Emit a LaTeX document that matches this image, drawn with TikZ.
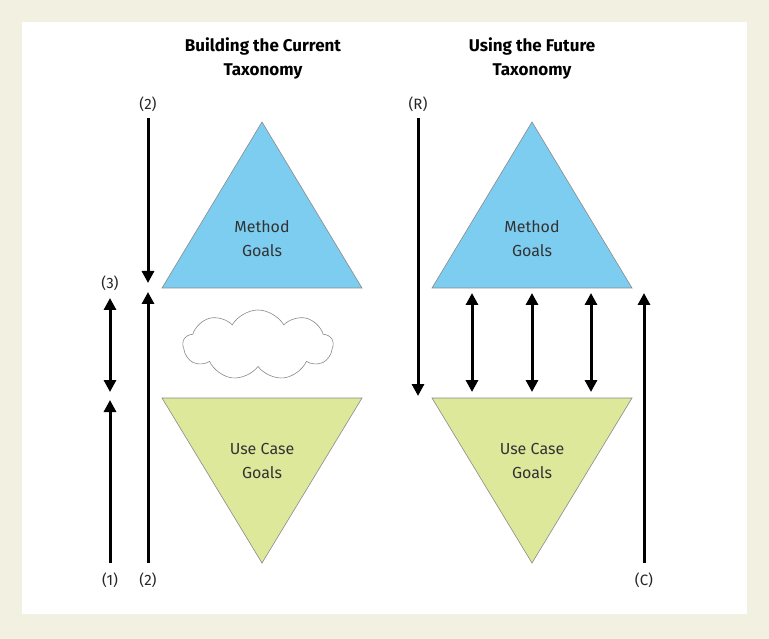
\documentclass[tikz,border=0pt]{standalone}
\usepackage{fontspec}
\setmainfont{Fira Sans}
\usetikzlibrary{arrows.meta,shapes.symbols}
\definecolor{bg}{HTML}{F1F0E1}
\definecolor{tblue}{HTML}{7DCDF0}
\definecolor{tgreen}{HTML}{DDE89B}
\definecolor{edge}{HTML}{8A8A8A}
\begin{document}
\begin{tikzpicture}[x=1pt,y=-1pt,
  arr/.style={line width=3pt,-{Triangle[length=12pt,width=12pt]}},
  darr/.style={line width=3pt,{Triangle[length=12pt,width=12pt]}-{Triangle[length=12pt,width=12pt]}},
  lbl/.style={font=\fontsize{15}{16}\selectfont,text=black!85},
  ttl/.style={font=\bfseries\fontsize{17}{24}\selectfont,align=center},
  tri/.style={draw=edge,line width=0.6pt},
  tt/.style={font=\fontsize{16}{24}\selectfont,align=center,text=black!80}]
\fill[bg] (0,0) rectangle (769,639);
\fill[white] (22,22) rectangle (747,614);
\node[ttl] (t1) at (263,58) {Building the Current\\Taxonomy};
\node[ttl] (t2) at (532,58) {Using the Future\\Taxonomy};
\draw[tri,fill=tblue] (262,122) -- (362,288) -- (162,288) -- cycle;
\draw[tri,fill=tgreen] (162,398) -- (362,398) -- (262,563) -- cycle;
\draw[tri,fill=tblue] (532,122) -- (632,288) -- (432,288) -- cycle;
\draw[tri,fill=tgreen] (432,398) -- (632,398) -- (532,563) -- cycle;
\node[tt] (m1) at (262,239) {Method\\Goals};
\node[tt] (u1) at (262,461) {Use Case\\Goals};
\node[tt] (m2) at (532,239) {Method\\Goals};
\node[tt] (u2) at (532,461) {Use Case\\Goals};
\node[cloud,draw=edge,line width=0.6pt,cloud puffs=9,cloud puff arc=120,aspect=2.4,minimum width=150pt,minimum height=70pt] (cl) at (258,345) {};
\node[lbl] (l2a) at (148,104) {(2)};
\node[lbl] (l2b) at (148,580) {(2)};
\node[lbl] (l1) at (110,580) {(1)};
\node[lbl] (l3) at (110,283) {(3)};
\node[lbl] (lR) at (418,104) {(R)};
\node[lbl] (lC) at (644,580) {(C)};
\coordinate (a1) at (148,118); \coordinate (a2) at (148,283);
\coordinate (b1) at (148,563); \coordinate (b2) at (148,292);
\coordinate (c1) at (110,298); \coordinate (c2) at (110,392);
\coordinate (d1) at (110,563); \coordinate (d2) at (110,400);
\coordinate (r1) at (418,118); \coordinate (r2) at (418,396);
\coordinate (e1) at (644,563); \coordinate (e2) at (644,293);
\draw[arr] (a1) -- (a2);
\draw[arr] (b1) -- (b2);
\draw[darr] (c1) -- (c2);
\draw[arr] (d1) -- (d2);
\draw[arr] (r1) -- (r2);
\draw[arr] (e1) -- (e2);
\foreach \x/\n in {472/p,532/q,591/s}{
  \coordinate (\n1) at (\x,293); \coordinate (\n2) at (\x,392);
  \draw[darr] (\n1) -- (\n2);}
\end{tikzpicture}
\end{document}
